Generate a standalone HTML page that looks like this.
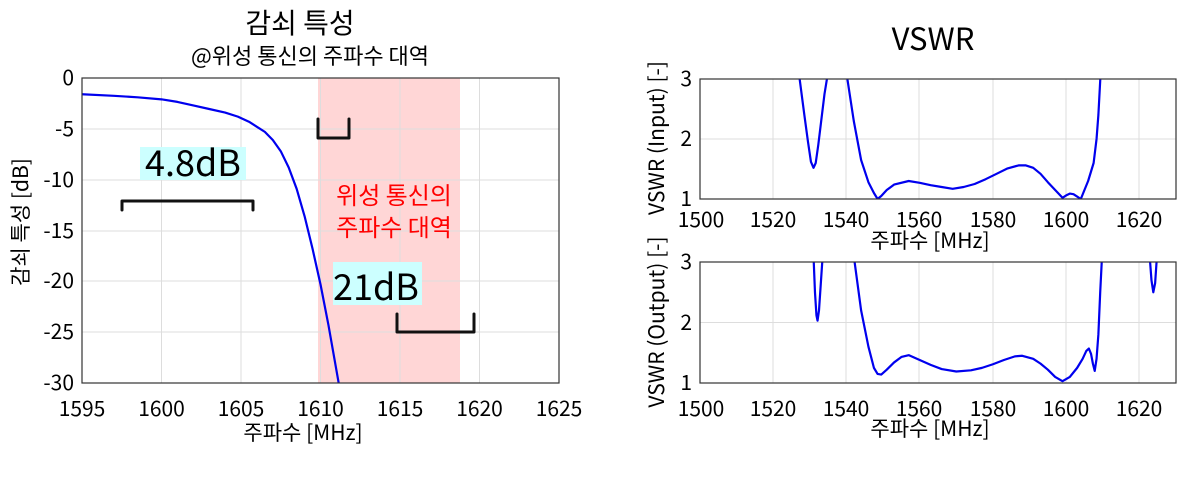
<!DOCTYPE html>
<html><head><meta charset="utf-8"><style>
body{margin:0;background:#fff;}
text{font-family:"Noto Sans CJK KR","Liberation Sans",sans-serif;}
polyline{stroke-linejoin:round;stroke-linecap:round;}
</style></head><body>
<svg width="1200" height="480" xmlns="http://www.w3.org/2000/svg">
<rect width="1200" height="480" fill="#fff"/>
<!-- LEFT -->
<text x="300" y="33" font-size="28" text-anchor="middle">감쇠 특성</text>
<text x="310" y="64" font-size="22" text-anchor="middle">@위성 통신의 주파수 대역</text>
<rect x="318" y="78" width="142" height="305" fill="#ffd6d6"/>
<g stroke="#ddd" stroke-width="1">
<line x1="161.5" y1="78" x2="161.5" y2="383"/><line x1="241" y1="78" x2="241" y2="383"/><line x1="320.5" y1="78" x2="320.5" y2="383"/><line x1="400" y1="78" x2="400" y2="383"/><line x1="479.5" y1="78" x2="479.5" y2="383"/>
<line x1="82" y1="129" x2="559" y2="129"/><line x1="82" y1="180" x2="559" y2="180"/><line x1="82" y1="231" x2="559" y2="231"/><line x1="82" y1="281" x2="559" y2="281"/><line x1="82" y1="332" x2="559" y2="332"/>
</g>
<svg x="82" y="78" width="477" height="305" viewBox="1595 0 30 30" preserveAspectRatio="none">
<polyline fill="none" stroke="#0000ee" stroke-width="2.2" vector-effect="non-scaling-stroke" points="1595,1.6 1597,1.75 1598.5,1.9 1600,2.1 1601,2.35 1602,2.7 1603,3.05 1604,3.4 1604.8,3.8 1605.5,4.3 1606,4.8 1606.5,5.3 1607,6.1 1607.5,7.2 1608,8.8 1608.5,10.9 1609,13.6 1609.5,16.8 1610,20.3 1610.5,24.3 1611.2,30.5"/>
</svg>
<rect x="82" y="78" width="477" height="305" fill="none" stroke="#333" stroke-width="1.2"/>
<g font-size="21" text-anchor="end">
<text x="74" y="85">0</text><text x="74" y="136">-5</text><text x="74" y="187">-10</text><text x="74" y="238">-15</text><text x="74" y="288">-20</text><text x="74" y="339">-25</text><text x="74" y="390">-30</text></g>
<g font-size="21" text-anchor="middle">
<text x="82" y="416">1595</text><text x="161.5" y="416">1600</text><text x="241" y="416">1605</text><text x="320.5" y="416">1610</text><text x="400" y="416">1615</text><text x="479.5" y="416">1620</text><text x="559" y="416">1625</text></g>
<text x="303" y="440" font-size="21" text-anchor="middle">주파수 [MHz]</text>
<text transform="translate(28,222) rotate(-90)" font-size="21" text-anchor="middle">감쇠 특성 [dB]</text>
<g fill="none" stroke="#111" stroke-width="3">
<polyline points="122,210 122,201 253,201 253,210"/>
<polyline points="318,119 318,138 349,138 349,119"/>
<polyline points="397,314 397,332 474,332 474,314"/>
</g>
<rect x="140" y="147" width="106" height="33" fill="#ccffff"/>
<text x="193" y="176" font-size="36" text-anchor="middle">4.8dB</text>
<rect x="333" y="262" width="89" height="43" fill="#ccffff"/>
<text x="376" y="300" font-size="36" text-anchor="middle">21dB</text>
<text x="394" y="204" font-size="24" fill="#ff0000" text-anchor="middle">위성 통신의</text>
<text x="394" y="236" font-size="24" fill="#ff0000" text-anchor="middle">주파수 대역</text>
<!-- RIGHT -->
<text x="933" y="50" font-size="31" text-anchor="middle">VSWR</text>
<g stroke="#ddd" stroke-width="1">
<line x1="773" y1="79" x2="773" y2="199"/><line x1="846" y1="79" x2="846" y2="199"/><line x1="919" y1="79" x2="919" y2="199"/><line x1="993" y1="79" x2="993" y2="199"/><line x1="1066" y1="79" x2="1066" y2="199"/><line x1="1139" y1="79" x2="1139" y2="199"/>
<line x1="700" y1="139" x2="1176" y2="139"/>
<line x1="773" y1="262" x2="773" y2="383"/><line x1="846" y1="262" x2="846" y2="383"/><line x1="919" y1="262" x2="919" y2="383"/><line x1="993" y1="262" x2="993" y2="383"/><line x1="1066" y1="262" x2="1066" y2="383"/><line x1="1139" y1="262" x2="1139" y2="383"/>
<line x1="700" y1="322.5" x2="1176" y2="322.5"/>
</g>
<svg x="700" y="79" width="476" height="120" viewBox="1500 0 130 2" preserveAspectRatio="none">
<polyline fill="none" stroke="#0000ee" stroke-width="2.2" vector-effect="non-scaling-stroke" points="1527,-0.1 1528.5,0.6 1529.5,1.05 1530.3,1.38 1531,1.48 1531.6,1.4 1532.3,1.1 1533,0.75 1534,0.25 1535.2,-0.2"/>
<polyline fill="none" stroke="#0000ee" stroke-width="2.2" vector-effect="non-scaling-stroke" points="1540,-0.1 1542,0.7 1544,1.35 1546,1.72 1547.5,1.9 1548.5,2.0 1549.5,1.95 1551,1.85 1553,1.76 1557,1.7 1560,1.73 1563,1.77 1566,1.8 1569,1.83 1572,1.8 1575,1.75 1578,1.67 1581,1.58 1584,1.49 1587,1.44 1589,1.44 1591,1.48 1593,1.58 1595,1.72 1597,1.85 1599,1.98 1600,1.94 1601,1.91 1602,1.92 1603,1.96 1604,2.0 1605,1.85 1606,1.7 1607.5,1.4 1608.3,1.0 1608.8,0.6 1609.5,-0.2"/>
</svg>
<svg x="700" y="262" width="476" height="121" viewBox="1500 0 130 2" preserveAspectRatio="none">
<polyline fill="none" stroke="#0000ee" stroke-width="2.2" vector-effect="non-scaling-stroke" points="1531,-0.1 1531.4,0.5 1531.8,0.88 1532.1,0.97 1532.5,0.8 1533,0.35 1533.5,-0.1"/>
<polyline fill="none" stroke="#0000ee" stroke-width="2.2" vector-effect="non-scaling-stroke" points="1542,-0.1 1544,0.8 1546,1.4 1547.5,1.75 1548.5,1.85 1549.5,1.86 1551,1.78 1553,1.66 1555,1.57 1557,1.54 1560,1.62 1563,1.7 1566,1.77 1570,1.81 1574,1.79 1577,1.75 1580,1.69 1583,1.62 1586,1.56 1588,1.55 1591,1.6 1593,1.68 1595,1.78 1597,1.9 1599,1.97 1601,1.9 1603,1.75 1604.5,1.6 1605.5,1.47 1606.2,1.43 1606.8,1.52 1607.3,1.68 1607.8,1.8 1608.3,1.6 1608.8,1.2 1609.3,0.5 1609.8,-0.1"/>
<polyline fill="none" stroke="#0000ee" stroke-width="2.2" vector-effect="non-scaling-stroke" points="1622.8,-0.1 1623.3,0.3 1623.8,0.5 1624.3,0.35 1624.8,-0.1"/>
</svg>
<rect x="700" y="79" width="476" height="120" fill="none" stroke="#333" stroke-width="1.2"/>
<rect x="700" y="262" width="476" height="121" fill="none" stroke="#333" stroke-width="1.2"/>
<g font-size="21" text-anchor="end">
<text x="692" y="86">3</text><text x="692" y="146">2</text><text x="692" y="206">1</text>
<text x="692" y="269">3</text><text x="692" y="330">2</text><text x="692" y="390">1</text></g>
<g font-size="21" text-anchor="middle">
<text x="701" y="227">1500</text><text x="773" y="227">1520</text><text x="846" y="227">1540</text><text x="919" y="227">1560</text><text x="993" y="227">1580</text><text x="1066" y="227">1600</text><text x="1139" y="227">1620</text>
<text x="701" y="416">1500</text><text x="773" y="416">1520</text><text x="846" y="416">1540</text><text x="919" y="416">1560</text><text x="993" y="416">1580</text><text x="1066" y="416">1600</text><text x="1139" y="416">1620</text></g>
<text x="930" y="248" font-size="21" text-anchor="middle">주파수 [MHz]</text>
<text x="930" y="436" font-size="21" text-anchor="middle">주파수 [MHz]</text>
<text transform="translate(664,138) rotate(-90)" font-size="21" text-anchor="middle">VSWR (Input) [-]</text>
<text transform="translate(664,322) rotate(-90)" font-size="21" text-anchor="middle">VSWR (Output) [-]</text>
</svg>
</body></html>
